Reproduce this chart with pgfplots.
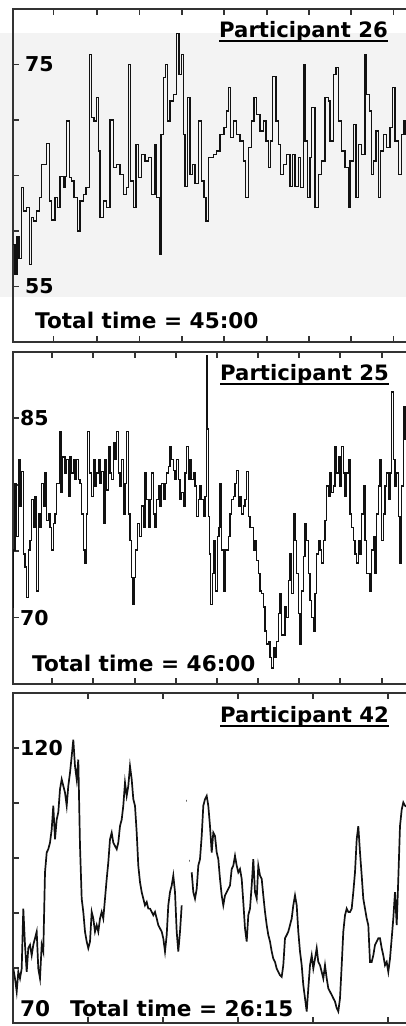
\documentclass[border=0pt]{standalone}
\usepackage{pgfplots}
\pgfplotsset{compat=1.18}
\usepackage{fontspec}
\setmainfont{DejaVu Sans}
\definecolor{bordercol}{HTML}{333333}
\definecolor{bandcol}{HTML}{F3F3F3}
\definecolor{tracecol}{HTML}{111111}
\newsavebox\ulbox
\newcommand\ul[1]{\sbox\ulbox{#1}\rlap{\rule[-4.3pt]{\wd\ulbox}{2pt}}\usebox\ulbox}
\newcommand\lab{\bfseries\fontsize{20.5}{24}\selectfont}
\newcommand\ttl{\bfseries\fontsize{21.2}{24}\selectfont}
\newcommand\tot{\bfseries\fontsize{21.6}{24}\selectfont}
\pgfplotsset{
 hrpanel/.style={
  scale only axis, width=425pt, xmin=13, xmax=438,
  anchor=south west,
  axis line style={line width=2.4pt, bordercol},
  tick align=inside,
  major tick length=6pt,
  every tick/.style={line width=1.8pt, bordercol},
  xticklabels={},
  yticklabel style={anchor=west, inner sep=0pt, font=\lab},
  /pgf/number format/assume math mode=true,
  unbounded coords=jump,
 },
 trace/.style={tracecol, line width=1.35pt, no markers},
}
\begin{document}
\begin{tikzpicture}
\path[use as bounding box, clip] (0pt,0pt) rectangle (406pt,1026pt);
\fill[bandcol] (0pt,729pt) rectangle (406pt,993pt);
% ---------------- Participant 26
\begin{axis}[hrpanel, at={(13pt,684pt)}, height=333pt, ymin=50, ymax=80,
  ytick={55,60,65,70,75}, yticklabels={55,,,,75}, yticklabel style={xshift=12pt},
  xtick={53.5,97,139.5,182,224,267,309,351,393.5}]
\addplot[trace, const plot] table {
x y
13 58.8
15 56.1
17 59.5
19 57.5
21.7 63.9
23.3 61.8
26.7 62.1
29.3 57.0
31.7 61.2
33.3 60.9
36.7 61.8
39.3 63.0
41.7 66.0
45 66.0
46.7 67.9
49.3 62.7
51.7 61.0
55 63.0
57.3 62.1
60 64.9
63.3 63.9
65 64.9
66.7 69.9
69.3 64.8
71.7 64.5
74 63.0
77.3 60.0
80 62.7
83.3 63.3
86 63.9
89.3 75.9
91.7 70.2
94 69.9
96.7 72.0
98.3 67.2
100 61.2
103.3 62.7
106.7 62.1
110 70.0
113.3 65.7
116.7 66.0
120 65.1
123.3 63.3
126.7 63.9
128.3 75.0
130.7 64.5
133.3 62.1
136 67.8
138.3 64.8
141.7 66.9
145 66.3
148.3 66.6
151.7 63.3
155 67.8
156.7 63.0
159.3 57.9
161 68.7
163.3 73.8
165.7 75.0
167.7 69.9
170 71.7
173.3 72.3
176.7 77.8
179 74.1
181.7 75.9
183.3 68.7
185 64.0
187.3 72.0
190 65.1
192.7 66.0
195 64.3
198.3 69.9
201.7 64.5
204 63.0
206 60.9
208.3 66.6
213.3 66.9
216.7 67.2
220 68.7
224 69.3
226.7 70.8
228.3 72.9
230.7 68.4
233.3 69.9
236.7 68.7
240 68.1
243.3 66.3
245.7 63.0
248.3 67.5
251.7 69.9
254 72.0
256.7 70.5
260 69.0
263.3 69.9
266 68.1
268.3 65.7
270.7 68.1
272.7 73.9
276 69.9
278.3 67.8
280.7 65.1
283.3 66.0
286.7 66.9
290 64.0
292.7 66.9
295 64.0
298.3 66.6
300.7 63.9
303.3 75.0
305 68.1
307.3 63.0
310 66.6
311.7 71.1
315 62.1
318.3 65.1
321.7 66.3
325 72.0
328.3 71.7
330 68.1
333.3 74.1
336 74.7
338.3 69.9
341.7 67.2
345 65.7
348.3 62.1
350 66.3
353.3 69.6
356 63.0
358.3 67.8
361.7 66.9
365 75.9
366.7 72.3
369.3 70.8
371.7 65.1
373.3 66.3
376 69.0
378.3 63.0
380.7 67.2
383.3 68.7
386.7 67.5
390 69.3
392.7 72.9
395 68.1
398.3 65.1
401.7 68.7
404 69.9
406 68.7
410 67.5
};
\end{axis}
% ---------------- Participant 25
\begin{axis}[hrpanel, at={(13pt,342pt)}, height=332pt, ymin=65, ymax=90,
  ytick={70,75,80,85}, yticklabels={70,,,85}, yticklabel style={xshift=7pt},
  xtick={51.7,93.3,135,175.7,216.7,257.7,299,340,381.7}]
\addplot[trace, const plot] table {
x y
13 70.8
13.3 75.1
15 80.1
16.7 76.1
18.3 81.9
20 78.4
21.7 81.0
23.3 74.8
25 73.8
26.7 71.5
28.3 75.1
30 75.8
31.7 78.9
33.3 76.8
35 79.1
36.7 72.0
38.3 77.8
40 76.8
41.7 80.1
43.3 78.4
45 80.9
46.7 77.3
48.3 77.8
50 76.8
51.7 75.1
53.3 77.1
55 77.8
56.7 80.1
59.3 84.0
61 79.4
62.7 82.1
65 80.9
66.7 81.9
68.3 79.1
70 82.1
71.7 80.9
73.3 81.9
75 80.4
76.7 81.9
78.3 80.4
80 80.1
81.7 77.8
83.3 75.1
85 74.1
86.7 77.8
87.7 84.0
89.3 80.9
91.7 79.1
93.3 81.9
95 79.9
96.7 80.9
98.3 81.9
100 80.1
101.7 81.0
103.3 77.1
105 81.9
106.7 79.6
108.3 82.9
110 80.9
111.7 80.4
113.3 83.2
115 81.9
116.7 84.0
118.3 80.9
120 79.9
121.7 81.9
123.3 77.8
125 80.1
126.7 84.0
128.3 77.8
130 75.8
131.7 73.0
132.7 71.0
134 73.0
135.7 75.1
137.3 77.1
139.3 76.1
141.7 78.4
143.3 76.8
145 80.9
146.7 78.9
148.3 76.8
150 78.9
151.7 80.9
153.3 77.8
155 76.8
156.7 78.9
158.3 79.9
160 78.4
161.7 80.1
163.3 78.9
165 80.1
166.7 80.9
168.3 81.4
170 82.9
171.7 81.9
173.3 81.1
175 80.4
176.7 81.9
178.3 80.4
180 78.9
181.7 79.4
183.3 78.4
185 80.9
186.7 82.9
188.3 80.4
190 81.9
191.7 80.4
193.3 80.9
195 79.9
196.7 77.6
198.3 78.9
200 79.9
201.7 78.9
203.3 77.6
205 79.1
206.7 89.7
207.3 84.2
208.3 77.6
209.3 74.8
210.7 71.0
212.3 73.3
214 75.8
215.7 72.0
217.3 76.1
219 76.8
220 80.1
221.7 75.1
223.3 72.0
225 75.1
226.7 75.1
228.3 76.1
230 77.8
231.7 78.9
233.3 79.1
235 80.1
236.7 81.1
238.3 78.4
240 79.1
241.7 77.8
243.3 78.4
245 78.9
246.7 81.0
248.3 77.6
250 76.8
251.7 76.8
253.3 75.1
255 75.8
256.7 74.3
258.3 73.3
260 72.0
261.7 71.8
263.3 70.8
265 69.0
266.7 68.0
268.3 68.2
270 67.0
271.7 66.2
273.3 67.7
275 67.0
276.7 68.2
278.3 70.3
280 71.8
281.7 68.7
283.3 68.7
285 70.8
286.7 70.0
288.3 72.8
290 74.8
291.7 71.8
293.3 77.8
295 75.8
296.7 73.3
298.3 70.3
300 68.0
301.7 72.0
303.3 74.6
305 77.1
306.7 75.8
308.3 73.3
310 71.3
311.7 70.0
313.3 69.0
315 71.8
316.7 74.8
318.3 75.8
320 75.1
321.7 74.1
323.3 75.8
325 77.3
326.7 79.9
328.3 79.1
330 80.9
331.7 79.4
333.3 79.9
335 82.9
336.7 80.9
338.3 82.1
340 79.9
341.7 82.9
343.3 80.9
345 79.1
346.7 80.9
348.3 81.9
350 77.8
351.7 76.8
353.3 75.8
355 74.8
356.7 74.1
358.3 75.8
360 74.8
361.7 77.8
363.3 79.9
365 75.8
366.7 73.3
368.3 73.3
370 72.0
371.7 75.1
373.3 76.1
375 73.3
376.7 77.8
378.3 79.9
380 81.9
381.7 75.8
383.3 77.8
385 79.9
386.7 80.9
388.3 78.9
390 80.9
391.7 87.0
393.3 81.9
395 79.9
396.7 80.9
398.3 77.6
400 74.1
401.7 79.9
403.3 85.9
405 83.4
410 82.0
};
\end{axis}
% ---------------- Participant 42
\begin{axis}[hrpanel, at={(13pt,3pt)}, height=330pt, ymin=70, ymax=130,
  ytick={80,90,100,110,120}, yticklabels={,,,,120}, yticklabel style={xshift=7pt},
  xtick={88,163,238,313,388}]
\addplot[trace, line width=1.7pt] table {
x y
13.3 79.9
15 78.1
16.7 75.7
18.3 79.3
20 78.1
21.7 79.9
23.3 90.8
25 84.2
26.7 79.3
28.3 83.6
30 84.2
31.7 82.3
33.3 84.2
35 85.4
36.7 86.6
38.3 79.9
40 78.1
41.7 84.2
43.3 83.0
45 97.4
46.7 101.0
48.3 101.6
50 102.8
51.7 105.2
53.3 109.5
55 103.4
56.7 107.0
58.3 108.3
60 112.5
61.7 114.3
63.3 113.1
65 111.9
66.7 109.5
68.3 113.1
70 115.5
71.7 118.5
73.3 121.5
75 116.7
76.7 114.3
78.3 117.9
80 102.2
81.7 92.6
83.3 90.2
85 86.6
86.7 84.8
88.3 83.6
90 84.8
91.7 90.2
93.3 89.0
95 86.6
96.7 87.8
98.3 86.6
100 89.0
101.7 90.2
103.3 89.0
105 92.6
106.7 96.2
108.3 99.2
110 103.4
111.7 104.6
113.3 102.8
115 102.2
116.7 101.6
118.3 102.8
120 105.8
121.7 107.0
123.3 109.5
125 113.7
126.7 111.3
128.3 113.1
130 116.7
131.7 114.3
133.3 110.7
135 109.5
136.7 104.6
138.3 98.6
140 95.6
141.7 93.8
143.3 92.6
145 91.4
146.7 92.0
148.3 90.8
150 90.8
151.7 90.2
153.3 89.6
155 90.2
156.7 89.0
158.3 87.8
160 87.2
161.7 86.6
163.3 85.4
165 83.0
166.7 86.0
168.3 91.4
170 93.8
171.7 95.0
173.3 96.8
175 93.8
176.7 86.6
178.3 83.0
180 86.6
181.7 91.4
nan nan
186 110.4
186.6 110.4
nan nan
189.3 99.5
189.8 99.5
nan nan
191.7 97.4
193.3 93.8
195 92.6
196.7 94.4
198.3 98.6
200 99.8
201.7 104.0
203.3 109.5
205 110.7
206.7 111.3
208.3 109.5
210 105.8
211.7 101.0
213.3 104.6
215 104.0
216.7 101.0
218.3 99.8
220 96.2
221.7 93.2
223.3 91.4
225 93.2
226.7 93.8
228.3 94.4
230 95.0
231.7 98.0
233.3 98.6
235 100.4
236.7 98.6
238.3 97.4
240 98.0
241.7 96.2
243.3 92.0
245 87.2
246.7 84.8
248.3 89.6
250 90.8
251.7 95.0
253.3 99.8
255 93.8
256.7 92.6
258.3 98.6
260 96.8
261.7 96.2
263.3 93.2
265 90.2
266.7 87.8
268.3 86.0
270 84.8
271.7 83.0
273.3 81.7
275 81.1
276.7 79.9
278.3 79.3
280 78.7
281.7 78.4
283.3 80.5
285 85.4
286.7 86.0
288.3 86.6
290 87.8
291.7 89.0
293.3 91.4
295 93.2
296.7 91.4
298.3 86.6
300 83.0
301.7 80.5
303.3 76.9
305 74.5
306.7 72.1
308.3 76.3
310 80.5
311.7 82.3
313.3 79.9
315 81.7
316.7 83.6
318.3 81.1
320 80.5
321.7 79.3
323.3 78.1
325 80.5
326.7 78.1
328.3 76.3
330 75.7
331.7 75.1
333.3 74.5
335 73.9
336.7 72.7
338.3 72.1
340 74.5
341.7 80.5
343.3 86.6
345 89.6
346.7 90.8
348.3 90.2
350 90.2
351.7 90.8
353.3 93.8
355 97.4
356.7 103.4
358.3 105.8
360 101.0
361.7 96.8
363.3 92.6
365 90.8
366.7 89.0
368.3 87.8
370 81.1
371.7 81.1
373.3 82.3
375 84.2
376.7 84.8
378.3 85.4
380 85.4
381.7 83.6
383.3 82.3
385 80.5
386.7 81.1
388.3 79.3
390 81.7
391.7 85.4
393.3 89.0
395 93.8
396.7 87.8
398.3 96.2
400 105.8
401.7 108.8
403.3 110.1
405 109.5
410 109.0
};
\end{axis}
% ---------------- texts
\node[anchor=base east, inner sep=0pt, font=\ttl] at (388pt,988.3pt) {\ul{Participant 26}};
\node[anchor=base west, inner sep=0pt, font=\tot] at (35pt,697.7pt) {Total time = 45:00};
\node[anchor=base east, inner sep=0pt, font=\ttl] at (389pt,645pt) {\ul{Participant 25}};
\node[anchor=base west, inner sep=0pt, font=\tot] at (32pt,354.3pt) {Total time = 46:00};
\node[anchor=base east, inner sep=0pt, font=\ttl] at (389pt,303.7pt) {\ul{Participant 42}};
\node[anchor=base west, inner sep=0pt, font=\tot] at (20pt,9.5pt) {70};
\node[anchor=base west, inner sep=0pt, font=\tot] at (70pt,9.5pt) {Total time = 26:15};
\end{tikzpicture}
\end{document}
